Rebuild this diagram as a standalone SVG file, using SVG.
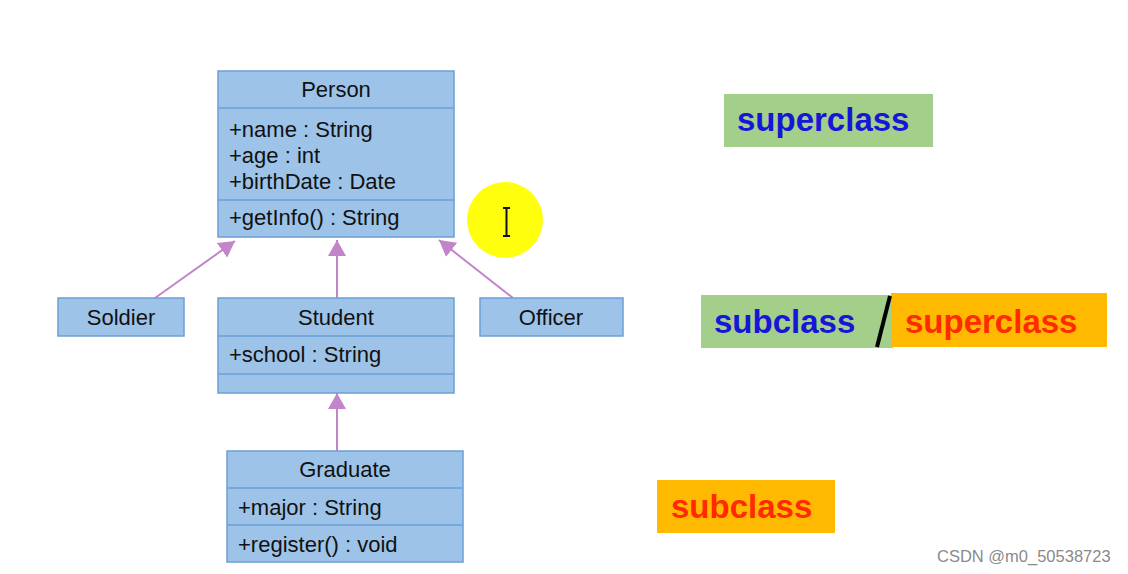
<svg xmlns="http://www.w3.org/2000/svg" width="1128" height="574" viewBox="0 0 1128 574">
<defs>
<style>
.box{fill:#9dc3e8;stroke:#6c9fd6;stroke-width:1.5}
.sep{stroke:#6c9fd6;stroke-width:1.5}
.t{font-family:"Liberation Sans",Arial,sans-serif;font-size:22px;fill:#111}
.c{text-anchor:middle}
.lab{font-family:"Liberation Sans",Arial,sans-serif;font-size:33px;font-weight:bold}
.blue{fill:#1616d8}
.red{fill:#ff2a00}
.conn{stroke:#c385c9;stroke-width:2;fill:none;marker-end:url(#tri)}
</style>
<marker id="tri" viewBox="0 0 16 18" refX="16" refY="9" markerWidth="16" markerHeight="18" markerUnits="userSpaceOnUse" orient="auto">
<path d="M0,0 L16,9 L0,18 Z" fill="#c385c9"/>
</marker>
</defs>
<rect width="1128" height="574" fill="#ffffff"/>

<g id="connectors">
<line class="conn" x1="155" y1="298" x2="235" y2="241"/>
<line class="conn" x1="337" y1="298" x2="337" y2="240"/>
<line class="conn" x1="513" y1="298" x2="439" y2="240"/>
<line class="conn" x1="337" y1="451" x2="337" y2="393"/>
</g>

<g id="person">
<rect class="box" x="218" y="71" width="236" height="166"/>
<line class="sep" x1="218" y1="108" x2="454" y2="108"/>
<line class="sep" x1="218" y1="200" x2="454" y2="200"/>
<text class="t c" x="336" y="97">Person</text>
<text class="t" x="229" y="137">+name : String</text>
<text class="t" x="229" y="163">+age : int</text>
<text class="t" x="229" y="189">+birthDate : Date</text>
<text class="t" x="229" y="225">+getInfo() : String</text>
</g>

<g id="soldier">
<rect class="box" x="58" y="298" width="126" height="38"/>
<text class="t c" x="121" y="325">Soldier</text>
</g>

<g id="student">
<rect class="box" x="218" y="298" width="236" height="95"/>
<line class="sep" x1="218" y1="336" x2="454" y2="336"/>
<line class="sep" x1="218" y1="374" x2="454" y2="374"/>
<text class="t c" x="336" y="325">Student</text>
<text class="t" x="229" y="362">+school : String</text>
</g>

<g id="officer">
<rect class="box" x="480" y="298" width="143" height="38"/>
<text class="t c" x="551" y="325">Officer</text>
</g>

<g id="graduate">
<rect class="box" x="227" y="451" width="236" height="111"/>
<line class="sep" x1="227" y1="488" x2="463" y2="488"/>
<line class="sep" x1="227" y1="525" x2="463" y2="525"/>
<text class="t c" x="345" y="477">Graduate</text>
<text class="t" x="238" y="515">+major : String</text>
<text class="t" x="238" y="552">+register() : void</text>
</g>

<g id="cursor">
<circle cx="505" cy="220" r="38" fill="#ffff00" opacity="0.95"/>
<path d="M503,208 L510,208 M506.5,208 L506.5,236 M503,236 L510,236" stroke="#111" stroke-width="2" fill="none"/>
</g>

<g id="label-superclass">
<rect x="724" y="94" width="209" height="53" fill="#a3cf8a"/>
<text class="lab blue" x="737" y="131">superclass</text>
</g>

<g id="label-sub-super">
<rect x="701" y="295" width="192" height="53" fill="#a3cf8a"/>
<rect x="891" y="293" width="216" height="54" fill="#ffb900"/>
<line x1="890" y1="296" x2="877" y2="347" stroke="#000" stroke-width="4"/>
<text class="lab blue" x="714" y="333">subclass</text>
<text class="lab red" x="905" y="333">superclass</text>
</g>

<g id="label-subclass">
<rect x="657" y="480" width="178" height="53" fill="#ffb900"/>
<text class="lab red" x="671" y="518">subclass</text>
</g>

<text x="937" y="562" font-family="Liberation Sans,Arial,sans-serif" font-size="16.5" fill="#8a8a8a">CSDN @m0_50538723</text>
</svg>
